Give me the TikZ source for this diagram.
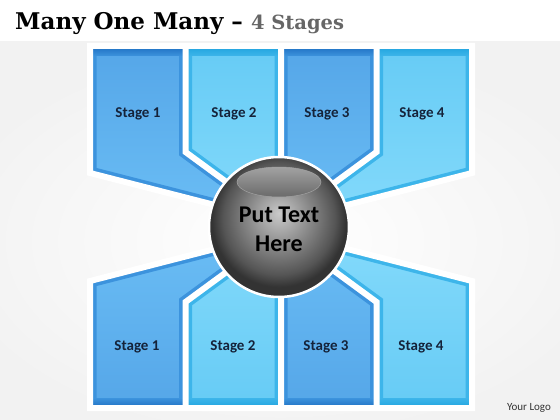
\documentclass[tikz,border=0pt]{standalone}
\usepackage{fontspec}
\setmainfont{Carlito}
\newfontfamily\titlefont{DejaVu Serif}
\usetikzlibrary{shapes}

\definecolor{midtop}{HTML}{55A6E8}
\definecolor{midbot}{HTML}{6BBEF5}
\definecolor{midframe}{HTML}{3C93DD}
\definecolor{midband}{HTML}{1D6EC0}
\definecolor{lighttop}{HTML}{66CBF5}
\definecolor{lightbot}{HTML}{84DAFB}
\definecolor{lightframe}{HTML}{3DB5EA}
\definecolor{lightband}{HTML}{1FA3DD}
\definecolor{bggrey}{HTML}{F2F2F2}
\definecolor{titlegrey}{HTML}{666666}
\definecolor{labelblue}{HTML}{15233A}
\definecolor{sphlight}{HTML}{CACACA}
\definecolor{sphmid}{HTML}{959595}
\definecolor{sphdark}{HTML}{555555}
\definecolor{sphrim}{HTML}{333333}
\definecolor{glosstop}{HTML}{6A6A6A}
\definecolor{glossbot}{HTML}{A2A2A2}

\pgfdeclareradialshading{sphere}{\pgfpoint{0bp}{5bp}}{color(0bp)=(sphlight); color(9bp)=(sphmid); color(20bp)=(sphdark); color(24bp)=(sphrim); color(50bp)=(sphrim)}

% one blade: outline, top colour, bottom colour, frame colour
\newcommand{\blade}[4]{%
  \begin{scope}
    \clip #1 -- cycle;
    \fill[top color=#2, bottom color=#3] #1 -- cycle;
    \draw[#4, line width=13pt] #1 -- cycle;
  \end{scope}}

\begin{document}
\begin{tikzpicture}[x=1pt, y=-1pt,
  stagelabel/.style={text=labelblue, font=\fontsize{15}{17}\selectfont\bfseries},
  gap/.style={white, line width=6pt, line join=miter}]

  \useasboundingbox (0,0) rectangle (560,420);
  \fill[white] (0,0) rectangle (560,420);
  \shade[inner color=white, outer color=bggrey] (-60,42) rectangle (620,440);

  \node[anchor=base west, inner sep=0pt] (title) at (15,30)
    {\titlefont\bfseries\fontsize{23}{26}\selectfont Many One Many \textendash{}
     {\color{titlegrey}\fontsize{19.5}{22}\selectfont 4 Stages}};

  %% upper blades
  \blade{(90,46) -- (185.5,46) -- (185.5,152) -- (281,222) -- (90,173)}{midtop}{midbot}{midframe}
  \blade{(185.5,46) -- (281,46) -- (281,222) -- (185.5,152)}{lighttop}{lightbot}{lightframe}
  \blade{(281,46) -- (376.5,46) -- (376.5,152) -- (281,222)}{midtop}{midbot}{midframe}
  \blade{(376.5,46) -- (472,46) -- (472,173) -- (281,222) -- (376.5,152)}{lighttop}{lightbot}{lightframe}
  \shade[top color=midband, bottom color=midframe] (90,46) rectangle (185.5,56);
  \shade[top color=lightband, bottom color=lightframe] (185.5,46) rectangle (281,56);
  \shade[top color=midband, bottom color=midframe] (281,46) rectangle (376.5,56);
  \shade[top color=lightband, bottom color=lightframe] (376.5,46) rectangle (472,56);

  %% lower blades
  \blade{(90,408) -- (185.5,408) -- (185.5,302) -- (281,232) -- (90,281)}{midbot}{midtop}{midframe}
  \blade{(185.5,408) -- (281,408) -- (281,232) -- (185.5,302)}{lightbot}{lighttop}{lightframe}
  \blade{(281,408) -- (376.5,408) -- (376.5,302) -- (281,232)}{midbot}{midtop}{midframe}
  \blade{(376.5,408) -- (472,408) -- (472,281) -- (281,232) -- (376.5,302)}{lightbot}{lighttop}{lightframe}
  \shade[top color=midframe, bottom color=midband] (90,398) rectangle (185.5,408);
  \shade[top color=lightframe, bottom color=lightband] (185.5,398) rectangle (281,408);
  \shade[top color=midframe, bottom color=midband] (281,398) rectangle (376.5,408);
  \shade[top color=lightframe, bottom color=lightband] (376.5,398) rectangle (472,408);

  %% white gaps between the blades
  \draw[gap] (90,46) -- (472,46) -- (472,173) -- (281,222) -- (90,173) -- cycle;
  \draw[gap] (185.5,46) -- (185.5,152) -- (281,222) -- (281,46);
  \draw[gap] (376.5,46) -- (376.5,152) -- (281,222);
  \draw[gap] (90,408) -- (472,408) -- (472,281) -- (281,232) -- (90,281) -- cycle;
  \draw[gap] (185.5,408) -- (185.5,302) -- (281,232) -- (281,408);
  \draw[gap] (376.5,408) -- (376.5,302) -- (281,232);

  \foreach \i/\x in {1/138, 2/234, 3/327, 4/422}
    \node[stagelabel] (up\i) at (\x,114) {Stage \i};
  \foreach \i/\x in {1/137, 2/233, 3/326, 4/421}
    \node[stagelabel] (low\i) at (\x,347) {Stage \i};

  %% the ball (shadings inside it come out upside down with y=-1pt)
  \coordinate (ball) at (279,227);
  \shade[shading=sphere] (ball) circle (70pt);
  \shade[top color=glossbot, bottom color=glosstop, draw=glossbot, line width=0.5pt]
    (279,182) ellipse [x radius=42pt, y radius=15pt];
  \draw[white, line width=2.5pt] (ball) circle (70pt);
  \node[align=center, font=\fontsize{24}{29}\selectfont\bfseries] (puttext) at (279,229) {Put Text\\Here};

  \node[text=black!80, font=\fontsize{11}{13}\selectfont] (logo) at (529,408) {Your Logo};
\end{tikzpicture}
\end{document}
